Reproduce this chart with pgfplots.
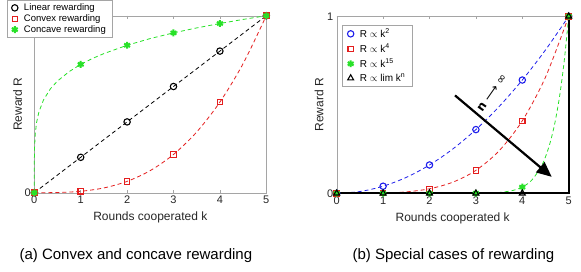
\documentclass[border=0pt]{standalone}
\usepackage{fontspec}
\setmainfont{Liberation Sans}
\newfontfamily\dejavu{DejaVu Sans}
\usepackage{pgfplots}
\pgfplotsset{compat=1.18}
\usetikzlibrary{arrows.meta}
\definecolor{axgray}{RGB}{165,165,165}
\definecolor{mgreen}{RGB}{40,225,40}
\definecolor{mred}{RGB}{228,30,30}
\definecolor{mblue}{RGB}{30,30,235}
\pgfplotsset{myax/.style={
  scale only axis, width=232pt, height=177pt,
  xmin=0, xmax=5, ymin=0, ymax=1,
  xtick={0,1,2,3,4,5},
  tick align=inside, major tick length=3pt,
  axis line style={draw=axgray},
  every tick/.style={axgray},
  tick label style={font=\fontsize{11}{12}\selectfont, text=black!85},
  /pgf/number format/assume math mode=true,
  label style={font=\fontsize{12}{13}\selectfont, text=black!85},
  xlabel={Rounds cooperated k}, ylabel={Reward R},
  xlabel style={at={(axis description cs:0.5,-0.141)}, anchor=center},
  clip=false,
  legend cell align=left,
  legend image code/.code={\draw[#1] plot coordinates {(0cm,0cm)};},
  dline/.style={dash pattern=on 4pt off 3pt, line width=0.8pt, smooth},
}}
\begin{document}
\begin{tikzpicture}
\useasboundingbox (0,0) rectangle (581pt,-271pt);
% ---------- (a) ----------
\begin{axis}[myax, at={(34.3pt,-192.7pt)}, anchor=south west,
  ytick={0},
  ylabel style={at={(axis description cs:-0.072,0.5)}, anchor=center},
  legend style={at={(axis description cs:-0.116,1.086)}, anchor=north west,
    draw=axgray, fill=white, font=\fontsize{9.5}{10}\selectfont,
    inner xsep=4pt, inner ysep=1pt, row sep=-1.5pt, column sep=4pt},
]
\addplot[forget plot, black, dline] coordinates {(0,0)(1,0.2)(2,0.4)(3,0.6)(4,0.8)(5,1)};
\addplot[forget plot, mred, dline] coordinates {(0,0)(0.5,0.001)(1,0.008)(1.5,0.027)(2,0.064)(2.5,0.125)(3,0.216)(3.5,0.343)(4,0.512)(4.5,0.729)(5,1)};
\addplot[forget plot, mgreen, dash pattern=on 4pt off 3pt, line width=0.8pt] coordinates {(0,0)(0.001,0.182)(0.005,0.251)(0.02,0.331)(0.05,0.398)(0.1,0.457)(0.2,0.525)(0.35,0.588)(0.5,0.631)(0.75,0.684)(1,0.725)(1.25,0.758)(1.5,0.786)(2,0.833)(2.5,0.871)(3,0.903)(3.5,0.931)(4,0.956)(4.5,0.979)(5,1)};
\addplot[only marks, black, mark=o, mark size=3.2pt, line width=1.1pt] coordinates {(0,0)(1,0.2)(2,0.4)(3,0.6)(4,0.8)(5,1)};
\addlegendentry{Linear rewarding}
\addplot[only marks, mred, mark=square, mark size=2.7pt, line width=1.1pt] coordinates {(0,0)(1,0.008)(2,0.064)(3,0.216)(4,0.512)(5,1)};
\addlegendentry{Convex rewarding}
\addplot[only marks, mgreen, mark=asterisk, mark size=3.4pt, line width=2pt] coordinates {(0,0)(1,0.725)(2,0.833)(3,0.903)(4,0.956)(5,1)};
\addlegendentry{Concave rewarding}
\end{axis}
% ---------- (b) ----------
\begin{axis}[myax, at={(336.7pt,-193.3pt)}, anchor=south west,
  ytick={0,1},
  ylabel style={at={(axis description cs:-0.076,0.5)}, anchor=center},
  legend style={at={(axis description cs:0.024,0.953)}, anchor=north west,
    draw=axgray, fill=white, font=\fontsize{10}{11}\selectfont,
    inner xsep=5pt, inner ysep=2pt, row sep=1pt, column sep=4pt},
]
\addplot[forget plot, mblue, dline] coordinates {(0,0)(0.5,0.01)(1,0.04)(1.5,0.09)(2,0.16)(2.5,0.25)(3,0.36)(3.5,0.49)(4,0.64)(4.5,0.81)(5,1)};
\addplot[forget plot, mred, dline] coordinates {(0,0)(0.5,0.0001)(1,0.0016)(1.5,0.0081)(2,0.0256)(2.5,0.0625)(3,0.1296)(3.5,0.2401)(4,0.4096)(4.5,0.6561)(5,1)};
\addplot[forget plot, mgreen, dline] coordinates {(0,0)(1,0)(2,0)(3,0.0005)(3.5,0.0047)(3.8,0.0163)(4,0.035)(4.2,0.0732)(4.4,0.147)(4.5,0.206)(4.6,0.286)(4.7,0.395)(4.8,0.542)(4.9,0.739)(5,1)};
\addplot[forget plot, black, line width=1.8pt] coordinates {(0,0)(5,0)(5,1)};
\addplot[only marks, mblue, mark=o, mark size=3.2pt, line width=1.1pt] coordinates {(0,0)(1,0.04)(2,0.16)(3,0.36)(4,0.64)(5,1)};
\addlegendentry{R $\propto$ k\textsuperscript{2}}
\addplot[only marks, mred, mark=square, mark size=2.7pt, line width=1.1pt] coordinates {(0,0)(1,0.0016)(2,0.0256)(3,0.1296)(4,0.4096)(5,1)};
\addlegendentry{R $\propto$ k\textsuperscript{4}}
\addplot[only marks, mgreen, mark=asterisk, mark size=3.4pt, line width=2pt] coordinates {(0,0)(1,0)(2,0)(3,0.0005)(4,0.035)(5,1)};
\addlegendentry{R $\propto$ k\textsuperscript{15}}
\addplot[only marks, black, mark=triangle, mark size=3.4pt, line width=1.1pt] coordinates {(0,0)(1,0)(2,0)(3,0)(4,0)(5,1)};
\addlegendentry{R $\propto$ lim k\textsuperscript{n}}
\draw[line width=2.2pt, -{Triangle[length=15pt,width=13pt]}] (axis cs:2.55,0.553) -- (axis cs:4.634,0.093);
\node[rotate=55, font=\dejavu\fontsize{12}{13}\selectfont, inner sep=0pt] at (axis cs:3.35,0.565) {\textbf{n} ⟶ ∞};
\end{axis}
\node[anchor=base west, font=\fontsize{15}{16}\selectfont] at (16pt,-259.3pt) {(a) Convex and concave rewarding};
\node[anchor=base west, font=\fontsize{15}{16}\selectfont] at (349pt,-259.3pt) {(b) Special cases of rewarding};
\end{tikzpicture}
\end{document}
